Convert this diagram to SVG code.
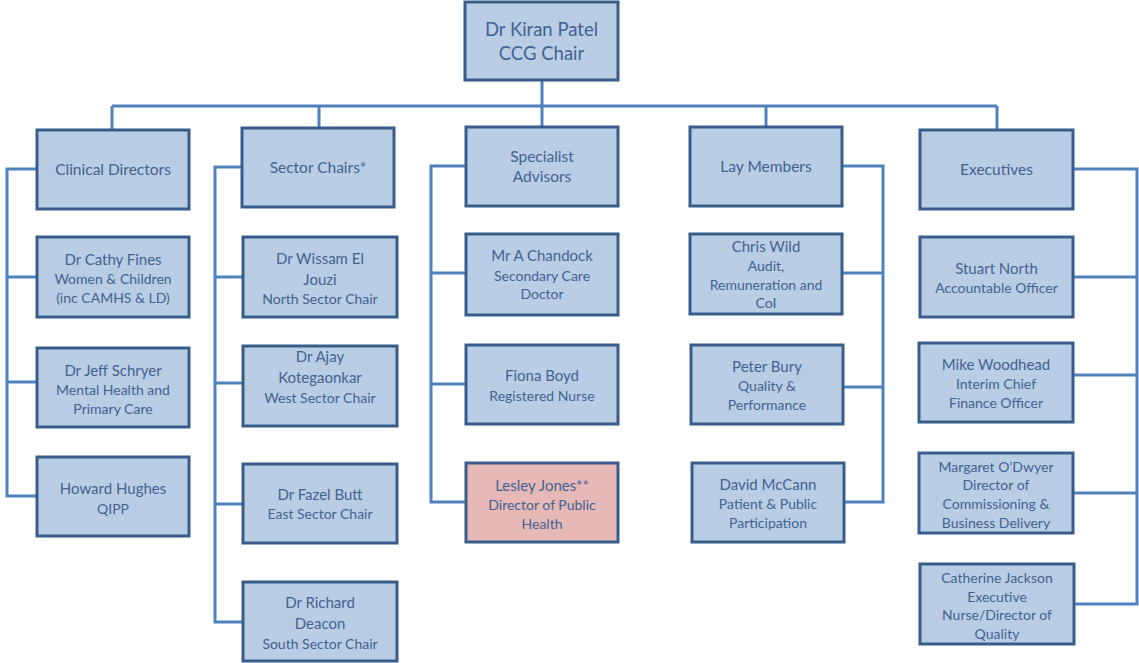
<svg xmlns="http://www.w3.org/2000/svg" width="1139" height="663" viewBox="0 0 1139 663">
<style>
.b{fill:#B9CDE5;stroke:#385D8A;stroke-width:3}
.p{fill:#E6B9B8;stroke:#385D8A;stroke-width:3}
.c{fill:none;stroke:#4F81BD;stroke-width:3;stroke-linejoin:miter}
text{font-family:Lato,"Open Sans","Liberation Sans",sans-serif;fill:#44628F;text-anchor:middle;dominant-baseline:central}
.t{font-size:18.5px}
.h{font-size:15.5px}
.n{font-size:15px}
.r{font-size:14px}
</style>
<rect width="1139" height="663" fill="#FFFFFF"/>
<g id="connectors">
<path class="c" d="M542 80V127M112 106H997M112 106V130M319 106V128M766 106V127M997 106V130"/>
<path class="c" d="M37 169H7V496H37M7 277H37M7 382H37"/>
<path class="c" d="M242 167H215V622H243M215 277H243M215 383H243M215 504H243"/>
<path class="c" d="M466 166H431V502H466M431 273H466M431 384H466"/>
<path class="c" d="M842 166H883V502H844M883 273H842M883 387H843"/>
<path class="c" d="M1073 169H1137V604H1074M1137 277H1073M1137 375H1073M1137 493H1073"/>
</g>
<g id="chair"><rect class="b" x="465" y="2" width="153" height="78"/><text class="t" x="541.5" y="29">Dr Kiran Patel</text><text class="t" x="541.5" y="53">CCG Chair</text></g>
<g id="clinical-directors"><rect class="b" x="37" y="130" width="152" height="79"/><text class="h" x="113" y="169">Clinical Directors</text></g>
<g id="sector-chairs"><rect class="b" x="242" y="128" width="152" height="79"/><text class="h" x="318" y="167">Sector Chairs*</text></g>
<g id="specialist-advisors"><rect class="b" x="466" y="127" width="152" height="79"/><text class="h" x="542" y="156">Specialist</text><text class="h" x="542" y="176">Advisors</text></g>
<g id="lay-members"><rect class="b" x="690" y="127" width="152" height="79"/><text class="h" x="766" y="166">Lay Members</text></g>
<g id="executives"><rect class="b" x="920" y="130" width="153" height="79"/><text class="h" x="996.5" y="169">Executives</text></g>

<g id="cathy-fines"><rect class="b" x="37" y="237" width="152" height="80"/><text class="n" x="113" y="259">Dr Cathy Fines</text><text class="r" x="113" y="278">Women &amp; Children</text><text class="r" x="113" y="297">(inc CAMHS &amp; LD)</text></g>
<g id="jeff-schryer"><rect class="b" x="37" y="348" width="152" height="79"/><text class="n" x="113" y="370">Dr Jeff Schryer</text><text class="r" x="113" y="389">Mental Health and</text><text class="r" x="113" y="408">Primary Care</text></g>
<g id="howard-hughes"><rect class="b" x="37" y="457" width="152" height="79"/><text class="n" x="113" y="488">Howard Hughes</text><text class="r" x="113" y="508">QIPP</text></g>

<g id="wissam-el-jouzi"><rect class="b" x="243" y="237" width="154" height="80"/><text class="n" x="320" y="258">Dr Wissam El</text><text class="n" x="320" y="279">Jouzi</text><text class="r" x="320" y="298">North Sector Chair</text></g>
<g id="ajay-kotegaonkar"><rect class="b" x="243" y="346" width="154" height="80"/><text class="n" x="320" y="356">Dr Ajay</text><text class="n" x="320" y="377">Kotegaonkar</text><text class="r" x="320" y="397">West Sector Chair</text></g>
<g id="fazel-butt"><rect class="b" x="243" y="464" width="154" height="79"/><text class="n" x="320" y="494">Dr Fazel Butt</text><text class="r" x="320" y="513">East Sector Chair</text></g>
<g id="richard-deacon"><rect class="b" x="243" y="582" width="154" height="79"/><text class="n" x="320" y="602">Dr Richard</text><text class="n" x="320" y="623">Deacon</text><text class="r" x="320" y="643">South Sector Chair</text></g>

<g id="a-chandock"><rect class="b" x="466" y="234" width="152" height="81"/><text class="n" x="542" y="255">Mr A Chandock</text><text class="r" x="542" y="275">Secondary Care</text><text class="r" x="542" y="293">Doctor</text></g>
<g id="fiona-boyd"><rect class="b" x="466" y="345" width="152" height="79"/><text class="n" x="542" y="375">Fiona Boyd</text><text class="r" x="542" y="395">Registered Nurse</text></g>
<g id="lesley-jones"><rect class="p" x="466" y="463" width="152" height="79"/><text class="n" x="542" y="485">Lesley Jones**</text><text class="r" x="542" y="504">Director of Public</text><text class="r" x="542" y="523">Health</text></g>

<g id="chris-wild"><rect class="b" x="690" y="234" width="152" height="80"/><text class="n" x="766" y="246">Chris Wild</text><text class="r" x="766" y="265">Audit,</text><text class="r" x="766" y="284">Remuneration and</text><text class="r" x="766" y="302">CoI</text></g>
<g id="peter-bury"><rect class="b" x="691" y="345" width="152" height="79"/><text class="n" x="767" y="366">Peter Bury</text><text class="r" x="767" y="385">Quality &amp;</text><text class="r" x="767" y="404">Performance</text></g>
<g id="david-mccann"><rect class="b" x="692" y="463" width="152" height="79"/><text class="n" x="768" y="484">David McCann</text><text class="r" x="768" y="503">Patient &amp; Public</text><text class="r" x="768" y="522">Participation</text></g>

<g id="stuart-north"><rect class="b" x="920" y="237" width="153" height="80"/><text class="n" x="996.5" y="268">Stuart North</text><text class="r" x="996.5" y="287">Accountable Officer</text></g>
<g id="mike-woodhead"><rect class="b" x="919" y="343" width="154" height="79"/><text class="n" x="996" y="364">Mike Woodhead</text><text class="r" x="996" y="383">Interim Chief</text><text class="r" x="996" y="402">Finance Officer</text></g>
<g id="margaret-odwyer"><rect class="b" x="919" y="453" width="154" height="80"/><text class="r" x="996" y="466">Margaret O’Dwyer</text><text class="r" x="996" y="484">Director of</text><text class="r" x="996" y="503">Commissioning &amp;</text><text class="r" x="996" y="522">Business Delivery</text></g>
<g id="catherine-jackson"><rect class="b" x="920" y="564" width="154" height="80"/><text class="r" x="997" y="577">Catherine Jackson</text><text class="r" x="997" y="596">Executive</text><text class="r" x="997" y="614">Nurse/Director of</text><text class="r" x="997" y="633">Quality</text></g>
</svg>
